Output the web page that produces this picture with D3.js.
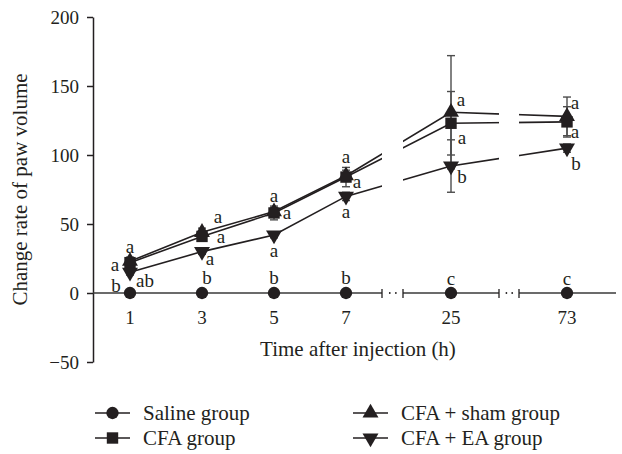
<!DOCTYPE html>
<html>
<head>
<meta charset="utf-8">
<script src="https://cdn.jsdelivr.net/npm/d3@7"></script>
<style>
  body { margin: 0; background: #fff; }
  svg text { font-family: "Liberation Serif", "DejaVu Serif", serif; fill: #231f20; }
</style>
</head>
<body>
<svg id="drawing_region"></svg>
<script>
// time points (h) and group means / errors (change rate of paw volume)
const times = [1, 3, 5, 7, 25, 73];
const yTicks = [-50, 0, 50, 100, 150, 200];

const saline = [0, 0, 0, 0, 0, 0];
const salineErr = [0, 0, 0, 0, 0, 0];
const cfa = [22, 41, 58, 84, 123, 124];
const cfaErr = [3, 3, 5, 7, 23, 11];
const sham = [23, 44, 59, 85, 131, 128];
const shamErr = [3, 3, 3, 4, 41, 14];
const ea = [15, 30, 42, 70, 92, 105];
const eaErr = [2, 2, 2, 3, 19, 3];

// significance letters per group and time point
const salineLetters = ['b', 'b', 'b', 'b', 'c', 'c'];
const cfaLetters = ['a', 'a', 'a', 'a', 'a', 'a'];
const shamLetters = ['a', 'a', 'a', 'a', 'a', 'a'];
const eaLetters = ['ab', 'a', 'a', 'a', 'b', 'b'];

const groupNames = ['Saline group', 'CFA group', 'CFA + sham group', 'CFA + EA group'];

class BrokenLinePlot {

    constructor(config) {
        this.config = config;
        this.series = [
            { name: groupNames[0], symbol: d3.symbolCircle, values: saline, err: salineErr, letters: salineLetters, offs: [[-14, -7], [5, -15], [0, -15], [0, -15], [0, -14], [0, -14]] },
            { name: groupNames[1], symbol: d3.symbolSquare, values: cfa, err: cfaErr, letters: cfaLetters, offs: [[-15, 3], [19, 1], [13, 0], [0, -20], [11, 15], [8, 10]] },
            { name: groupNames[2], symbol: d3.symbolTriangle, values: sham, err: shamErr, letters: shamLetters, offs: [[0, -14], [16, -15], [0, -15], [11, 7], [10, -12], [8, -13]] },
            { name: groupNames[3], symbol: 'down', values: ea, err: eaErr, letters: eaLetters, offs: [[15, 9], [8, 8], [0, 16], [0, 16], [11, 11], [9, 16]] }
        ];
        this.init();
    }

    init() {
        let self = this;
        const c = self.config;

        self.svg = d3.select(c.parent)
            .attr('width', c.width)
            .attr('height', c.height);

        // piecewise scale: evenly spaced early hours, compressed after the breaks
        self.x = d3.scaleLinear()
            .domain([1, 7, 25, 73])
            .range([130, 346, 451, 567]);

        self.y = d3.scaleLinear()
            .domain([-50, 200])
            .range([362, 17]);

        self.render();
    }

    symbolPath(sym, size) {
        if (sym === 'down') {
            return d3.symbol(d3.symbolTriangle, size)();
        }
        return d3.symbol(sym, size)();
    }

    render() {
        let self = this;
        const c = self.config;
        const x = self.x, y = self.y;
        const ink = '#231f20';
        const sizes = { circle: 120, square: 130, tri: 110 };
        const sizeOf = s => s.symbol === d3.symbolCircle ? sizes.circle : (s.symbol === d3.symbolSquare ? sizes.square : sizes.tri);

        // group lines
        const line = d3.line()
            .x((d, i) => x(times[i]))
            .y(d => y(d));

        self.series.slice(1).forEach(s => {
            self.svg.append('path')
                .datum(s.values)
                .attr('d', line)
                .attr('fill', 'none')
                .attr('stroke', ink)
                .attr('stroke-width', 1.6);
        });

        // white-out the axis break gaps
        c.breaks.forEach(b => {
            self.svg.append('rect')
                .attr('x', b[0])
                .attr('y', 0)
                .attr('width', b[1] - b[0])
                .attr('height', y(0) + 3)
                .attr('fill', '#fff');
        });

        // y axis
        const yAxis = self.svg.append('g')
            .attr('transform', `translate(${c.axisX},0)`)
            .call(d3.axisLeft(y).tickValues(yTicks).tickSize(6).tickSizeOuter(0).tickPadding(8)
                .tickFormat(d => d < 0 ? '\u2212' + Math.abs(d) : d));
        yAxis.select('.domain').attr('stroke', ink).attr('stroke-width', 1.5);
        yAxis.selectAll('line').attr('stroke', ink).attr('stroke-width', 1.5);
        yAxis.selectAll('text').style('font-size', '19px').attr('fill', ink);

        // x axis line split by the breaks
        const segs = [[c.axisX, c.breaks[0][0]], [c.breaks[0][1], c.breaks[1][0]], [c.breaks[1][1], c.axisEnd]];
        self.svg.selectAll('.xseg')
            .data(segs)
            .enter()
            .append('line')
            .attr('x1', d => d[0])
            .attr('x2', d => d[1])
            .attr('y1', y(0))
            .attr('y2', y(0))
            .attr('stroke', '#3a3a3a')
            .attr('stroke-width', 1.6);

        c.breaks.forEach(b => {
            b.forEach(bx => {
                self.svg.append('line')
                    .attr('x1', bx).attr('x2', bx)
                    .attr('y1', y(0) - 4).attr('y2', y(0) + 5)
                    .attr('stroke', ink).attr('stroke-width', 1.3);
            });
            [0.37, 0.66].forEach(f => {
                self.svg.append('circle')
                    .attr('cx', b[0] + (b[1] - b[0]) * f)
                    .attr('cy', y(0))
                    .attr('r', 0.9)
                    .attr('fill', ink);
            });
        });

        // x tick marks and labels
        self.svg.selectAll('.xtick')
            .data(times)
            .enter()
            .append('line')
            .attr('x1', d => x(d)).attr('x2', d => x(d))
            .attr('y1', y(0)).attr('y2', y(0) + 6)
            .attr('stroke', ink).attr('stroke-width', 1.3);

        self.svg.selectAll('.xlab')
            .data(times)
            .enter()
            .append('text')
            .attr('x', d => x(d))
            .attr('y', y(0) + 31)
            .attr('text-anchor', 'middle')
            .style('font-size', '19px')
            .text(d => d);

        // error bars
        self.series.forEach(s => {
            s.values.forEach((v, i) => {
                const e = s.err[i];
                if (!e) return;
                const cx = x(times[i]);
                const g = self.svg.append('g').attr('stroke', '#4d4d4d').attr('stroke-width', 1.4);
                g.append('line').attr('x1', cx).attr('x2', cx).attr('y1', y(v - e)).attr('y2', y(v + e));
                [v - e, v + e].forEach(t => {
                    g.append('line').attr('x1', cx - 4).attr('x2', cx + 4).attr('y1', y(t)).attr('y2', y(t));
                });
            });
        });

        // markers
        self.series.forEach(s => {
            self.svg.selectAll(null)
                .data(s.values)
                .enter()
                .append('path')
                .attr('d', self.symbolPath(s.symbol, sizeOf(s)))
                .attr('transform', (d, i) => `translate(${x(times[i])},${y(d)})` + (s.symbol === 'down' ? ' rotate(180)' : ''))
                .attr('fill', ink);
        });

        // significance letters
        self.series.forEach(s => {
            self.svg.selectAll(null)
                .data(s.letters)
                .enter()
                .append('text')
                .attr('x', (d, i) => x(times[i]) + s.offs[i][0])
                .attr('y', (d, i) => y(s.values[i]) + s.offs[i][1])
                .attr('dy', '0.3em')
                .attr('text-anchor', 'middle')
                .style('font-size', '19px')
                .text(d => d);
        });

        // axis titles
        self.svg.append('text')
            .attr('x', 358)
            .attr('y', 356)
            .attr('text-anchor', 'middle')
            .style('font-size', '21px')
            .text('Time after injection (h)');

        self.svg.append('text')
            .attr('transform', `translate(27,${(y(-50) + y(200)) / 2}) rotate(-90)`)
            .attr('text-anchor', 'middle')
            .style('font-size', '21px')
            .text('Change rate of paw volume');

        // legend
        const legend = self.svg.selectAll('.legend')
            .data(self.series)
            .enter()
            .append('g')
            .attr('transform', (d, i) => `translate(${c.legendCols[i < 2 ? 0 : 1]},${c.legendRows[i % 2]})`);

        legend.append('line')
            .attr('x1', 0).attr('x2', 35)
            .attr('stroke', ink).attr('stroke-width', 1.5);
        legend.append('path')
            .attr('d', d => self.symbolPath(d.symbol, sizeOf(d)))
            .attr('transform', d => 'translate(17.5,0)' + (d.symbol === 'down' ? ' rotate(180)' : ''))
            .attr('fill', ink);
        legend.append('text')
            .attr('x', 48)
            .attr('dy', '0.32em')
            .style('font-size', '21px')
            .text(d => d.name);
    }
}

const plot = new BrokenLinePlot({
    parent: '#drawing_region',
    width: 622,
    height: 454,
    axisX: 93,
    axisEnd: 616,
    breaks: [[382, 403], [499, 519]],
    legendCols: [95, 353],
    legendRows: [413, 438]
});
</script>
</body>
</html>
